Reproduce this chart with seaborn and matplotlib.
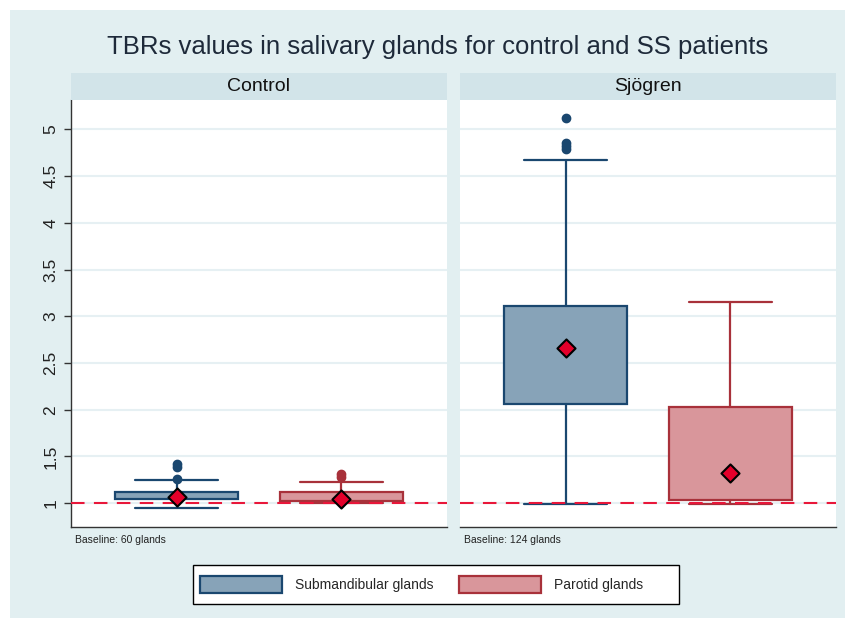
import numpy as np
import pandas as pd
import seaborn as sns
import matplotlib.pyplot as plt
from matplotlib.patches import Patch, Rectangle

# ---------------- data ----------------
panels = ["Control", "Sjögren"]
glands = ["Submandibular glands", "Parotid glands"]
baseline_text = ["Baseline: 60 glands", "Baseline: 124 glands"]

# per panel: [submandibular, parotid]
whislo = [[0.945, 1.00], [0.99, 0.99]]
q1 = [[1.04, 1.025], [2.06, 1.03]]
med = [[1.07, 1.05], [2.66, 1.32]]
q3 = [[1.12, 1.12], [3.11, 2.03]]
whishi = [[1.25, 1.225], [4.67, 3.15]]
means = [[1.07, 1.05], [2.66, 1.32]]
outliers = [[[1.26, 1.39, 1.42], [1.28, 1.31]],
            [[4.79, 4.82, 4.85, 5.12], []]]
reference = 1.0
yticks = [1, 1.5, 2, 2.5, 3, 3.5, 4, 4.5, 5]
ytick_labels = ["1", "1.5", "2", "2.5", "3", "3.5", "4", "4.5", "5"]

# ---------------- style ----------------
sns.set_theme(style="white")
plt.rcParams['font.family'] = ['Liberation Sans', 'DejaVu Sans']

edge_cols = ["#1a476f", "#a8313a"]
fill_cols = ["#87a3b8", "#d9969b"]
bg = "#e2eff1"
strip_bg = "#d2e4e9"
grid_col = "#e6f0f3"

fig = plt.figure(figsize=(8.51, 6.26), dpi=100)
fig.patch.set_facecolor("white")
fig.add_artist(Rectangle((10/851, 8/626), 835/851, 608/626, transform=fig.transFigure,
                         facecolor=bg, edgecolor="none", zorder=-10))

fig.text(437.5/851, 1 - 47/626, "TBRs values in salivary glands for control and SS patients",
         ha="center", va="center", fontsize=18.5, color="#1e2a3a")

lefts = [71/851, 460/851]
width = 376/851
bottom = 1 - 527/626
height = (527 - 100)/626
strip_h = 27/626

for p, pname in enumerate(panels):
    ax = fig.add_axes([lefts[p], bottom, width, height])
    ax.set_facecolor("white")
    stats = []
    for g in range(len(glands)):
        stats.append(dict(whislo=whislo[p][g], q1=q1[p][g], med=med[p][g], q3=q3[p][g],
                          whishi=whishi[p][g], fliers=outliers[p][g], label=glands[g]))
    for g in range(len(glands)):
        ax.bxp([stats[g]], positions=[g], widths=0.745, patch_artist=True,
               showfliers=True, manage_ticks=False,
               boxprops=dict(facecolor=fill_cols[g], edgecolor=edge_cols[g], linewidth=1.6),
               whiskerprops=dict(color=edge_cols[g], linewidth=1.6),
               capprops=dict(color=edge_cols[g], linewidth=1.6),
               capwidths=0.5,
               medianprops=dict(linewidth=0),
               flierprops=dict(marker="o", markerfacecolor=edge_cols[g],
                               markeredgecolor=edge_cols[g], markersize=6))
    mdf = pd.DataFrame({"pos": list(range(len(glands))), "mean": means[p]})
    sns.scatterplot(data=mdf, x="pos", y="mean", marker="D", s=85, color="#e4002b",
                    edgecolor="black", linewidth=1.5, ax=ax, zorder=5, legend=False)
    ax.axhline(reference, color="#e8173a", linestyle=(0, (6.5, 4.5)), linewidth=1.5, zorder=4)

    ax.set_xlim(-0.64, 1.64)
    ax.set_ylim(0.745, 5.315)
    ax.set_yticks(yticks)
    for yv in yticks:
        ax.axhline(yv, color=grid_col, linewidth=1.5, zorder=0)
    ax.set_xticks([])
    ax.set_xlabel("")
    ax.set_ylabel("")
    for s in ["top", "right"]:
        ax.spines[s].set_visible(False)
    ax.spines["bottom"].set_color("#333333")
    ax.spines["bottom"].set_linewidth(1.0)
    if p == 0:
        ax.set_yticklabels(ytick_labels, rotation=90, va="center", fontsize=12.5, color="#222222")
        ax.tick_params(axis="y", left=True, length=5, width=1, color="#333333", pad=4)
        ax.spines["left"].set_color("#333333")
        ax.spines["left"].set_linewidth(1.0)
    else:
        ax.set_yticklabels([])
        ax.tick_params(axis="y", left=False)
        ax.spines["left"].set_visible(False)

    # strip header
    sax = fig.add_axes([lefts[p], bottom + height, width, strip_h])
    sax.set_facecolor(strip_bg)
    sax.set_xticks([]); sax.set_yticks([])
    for s in sax.spines.values():
        s.set_visible(False)
    sax.text(0.5, 0.5, pname, ha="center", va="center", fontsize=14,
             color="#111111", transform=sax.transAxes)

    fig.text(lefts[p] + 4/851, 1 - 540/626, baseline_text[p], ha="left", va="center",
             fontsize=7.5, color="#222222")

# legend frame drawn as a figure rectangle
fig.add_artist(Rectangle((193/851, 1 - 604/626), 486/851, 39/626, transform=fig.transFigure,
                         facecolor="white", edgecolor="black", linewidth=1.0, zorder=1))
handles = [Patch(facecolor=fill_cols[i], edgecolor=edge_cols[i], linewidth=1.6)
           for i in range(len(glands))]
leg = fig.legend(handles, glands, loc="center left", ncol=2,
                 bbox_to_anchor=(200/851, 1 - 584.5/626),
                 fontsize=10, frameon=False, handlelength=5.9, handleheight=1.6,
                 handletextpad=0.95, columnspacing=1.8, borderpad=0.0, borderaxespad=0.0)
leg.set_zorder(2)

fig.savefig("out.png", dpi=100, facecolor=fig.get_facecolor())
